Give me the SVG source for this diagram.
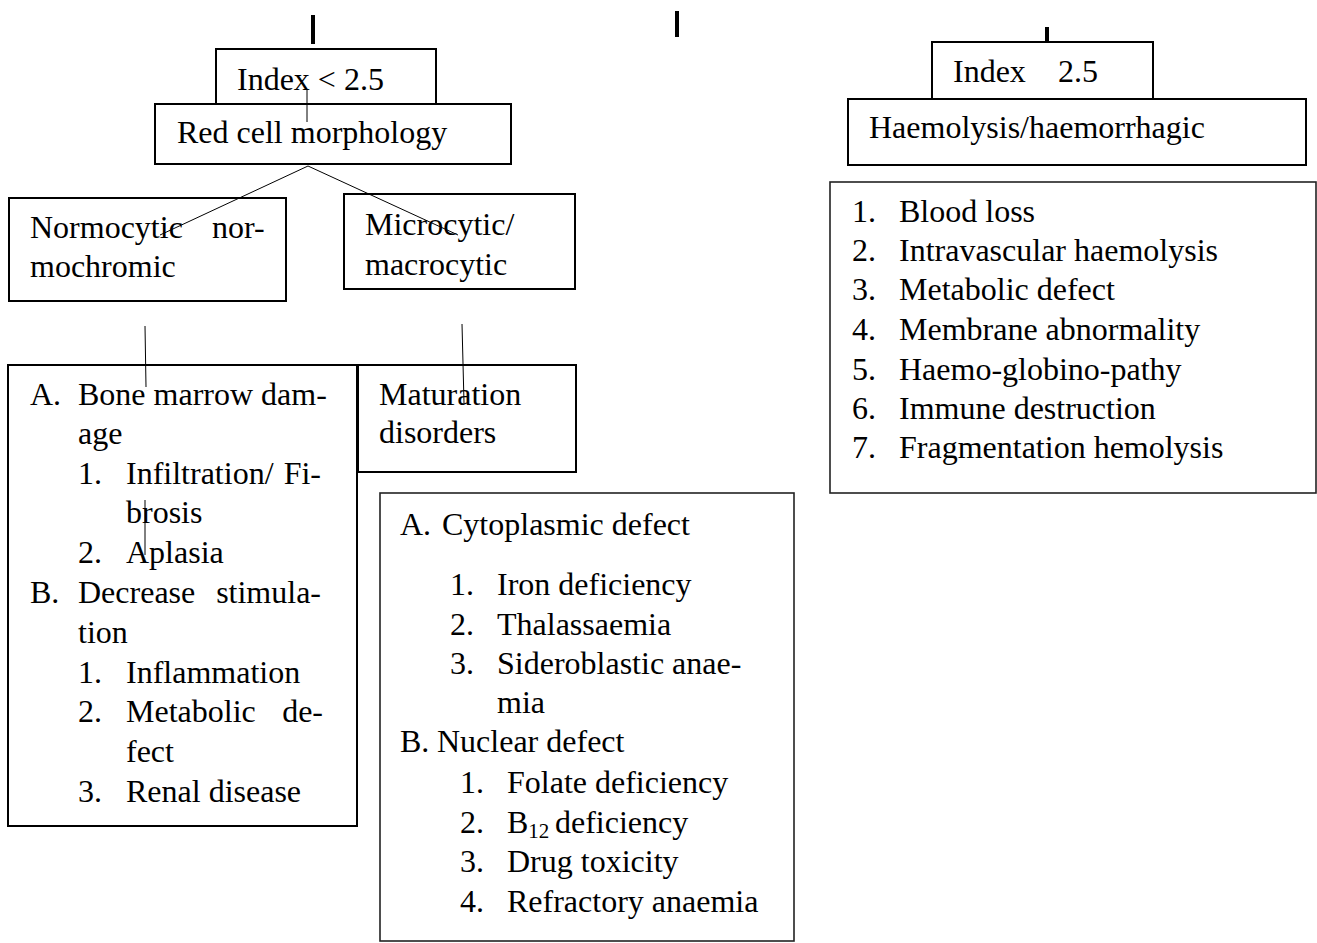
<svg xmlns="http://www.w3.org/2000/svg" width="1317" height="943" viewBox="0 0 1317 943">
<style>
.box{fill:none;stroke:#000;stroke-width:2}
.box2{fill:none;stroke:#222;stroke-width:1.6}
.t{font-family:"Liberation Serif","Times New Roman",serif;font-size:32px;fill:#000}
.ln{stroke:#000;stroke-width:1;fill:none}
.tick{stroke:#000;stroke-width:4}
</style>
<rect width="1317" height="943" fill="#fff"/>
<g id="connectors">
<line class="tick" x1="313" y1="15" x2="313" y2="44"/>
<line class="tick" x1="677" y1="11" x2="677" y2="37"/>
<line class="tick" x1="1047" y1="27" x2="1047" y2="42"/>
<line class="ln" x1="307" y1="89" x2="307" y2="122"/>
<line class="ln" x1="308" y1="166" x2="160" y2="235"/>
<line class="ln" x1="308" y1="166" x2="458" y2="235"/>
<line class="ln" x1="145" y1="326" x2="146" y2="387"/>
<line class="ln" x1="462" y1="324" x2="464" y2="403"/>
<line class="ln" x1="145" y1="500" x2="145" y2="555"/>
</g>
<g id="index-low">
<rect class="box" x="216" y="49" width="220" height="55"/>
<text class="t" x="237" y="90">Index &lt; 2.5</text>
</g>
<g id="red-cell">
<rect class="box" x="155" y="104" width="356" height="60"/>
<text class="t" x="177" y="143">Red cell morphology</text>
</g>
<g id="normocytic">
<rect class="box" x="9" y="198" width="277" height="103"/>
<text class="t"><tspan x="30" y="238">Normocytic</tspan><tspan x="212" y="238">nor-</tspan><tspan x="30" y="277">mochromic</tspan></text>
</g>
<g id="microcytic">
<rect class="box" x="344" y="194" width="231" height="95"/>
<text class="t"><tspan x="365" y="235">Microcytic/</tspan><tspan x="365" y="275">macrocytic</tspan></text>
</g>
<g id="bone-marrow">
<rect class="box" x="8" y="365" width="349" height="461"/>
<text class="t">
<tspan x="30" y="405">A.</tspan><tspan x="78" y="405">Bone marrow dam-</tspan>
<tspan x="78" y="444">age</tspan>
<tspan x="78" y="484">1.</tspan><tspan x="126" y="484">Infiltration/</tspan><tspan x="329" y="484" text-anchor="end">Fi-</tspan>
<tspan x="126" y="523">brosis</tspan>
<tspan x="78" y="563">2.</tspan><tspan x="126" y="563">Aplasia</tspan>
<tspan x="30" y="603">B.</tspan><tspan x="78" y="603">Decrease</tspan><tspan x="329" y="603" text-anchor="end">stimula-</tspan>
<tspan x="78" y="643">tion</tspan>
<tspan x="78" y="683">1.</tspan><tspan x="126" y="683">Inflammation</tspan>
<tspan x="78" y="722">2.</tspan><tspan x="126" y="722">Metabolic</tspan><tspan x="331" y="722" text-anchor="end">de-</tspan>
<tspan x="126" y="762">fect</tspan>
<tspan x="78" y="802">3.</tspan><tspan x="126" y="802">Renal disease</tspan>
</text>
</g>
<g id="maturation">
<rect class="box" x="358" y="365" width="218" height="107"/>
<text class="t"><tspan x="379" y="405">Maturation</tspan><tspan x="379" y="443">disorders</tspan></text>
</g>
<g id="cytoplasmic">
<rect class="box2" x="380" y="493" width="414" height="448"/>
<text class="t">
<tspan x="400" y="535">A.</tspan><tspan x="442" y="535">Cytoplasmic defect</tspan>
<tspan x="450" y="595">1.</tspan><tspan x="497" y="595">Iron deficiency</tspan>
<tspan x="450" y="635">2.</tspan><tspan x="497" y="635">Thalassaemia</tspan>
<tspan x="450" y="674">3.</tspan><tspan x="497" y="674">Sideroblastic anae-</tspan>
<tspan x="497" y="713">mia</tspan>
<tspan x="400" y="752">B.</tspan><tspan x="437" y="752">Nuclear defect</tspan>
<tspan x="460" y="793">1.</tspan><tspan x="507" y="793">Folate deficiency</tspan>
<tspan x="460" y="833">2.</tspan><tspan x="507" y="833">B</tspan><tspan y="838" font-size="21">12</tspan><tspan x="555" y="833">deficiency</tspan>
<tspan x="460" y="872">3.</tspan><tspan x="507" y="872">Drug toxicity</tspan>
<tspan x="460" y="912">4.</tspan><tspan x="507" y="912">Refractory anaemia</tspan>
</text>
</g>
<g id="index-high">
<rect class="box" x="932" y="42" width="221" height="57"/>
<text class="t"><tspan x="953" y="82">Index</tspan><tspan x="1058" y="82">2.5</tspan></text>
</g>
<g id="haemolysis">
<rect class="box" x="848" y="99" width="458" height="66"/>
<text class="t" x="869" y="138">Haemolysis/haemorrhagic</text>
</g>
<g id="causes">
<rect class="box2" x="830" y="182" width="486" height="311"/>
<text class="t">
<tspan x="852" y="222">1.</tspan><tspan x="899" y="222">Blood loss</tspan>
<tspan x="852" y="261">2.</tspan><tspan x="899" y="261">Intravascular haemolysis</tspan>
<tspan x="852" y="300">3.</tspan><tspan x="899" y="300">Metabolic defect</tspan>
<tspan x="852" y="340">4.</tspan><tspan x="899" y="340">Membrane abnormality</tspan>
<tspan x="852" y="380">5.</tspan><tspan x="899" y="380">Haemo-globino-pathy</tspan>
<tspan x="852" y="419">6.</tspan><tspan x="899" y="419">Immune destruction</tspan>
<tspan x="852" y="458">7.</tspan><tspan x="899" y="458">Fragmentation hemolysis</tspan>
</text>
</g>
</svg>
